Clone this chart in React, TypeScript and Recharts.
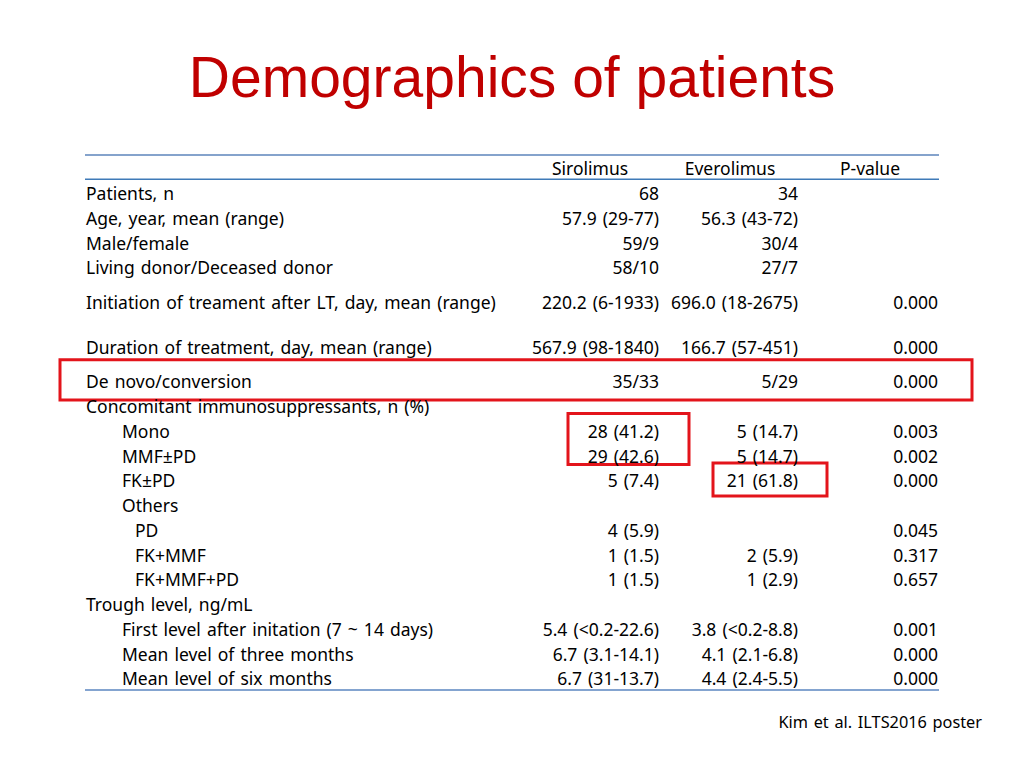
import { ComposedChart, Scatter, XAxis, YAxis, ReferenceLine, ReferenceArea, Text } from 'recharts';

const title = 'Demographics of patients';
const footnote = 'Kim et al. ILTS2016 poster';
const headers = ['Sirolimus', 'Everolimus', 'P-value'];

const labels = [
  'Patients, n',
  'Age, year, mean (range)',
  'Male/female',
  'Living donor/Deceased donor',
  'Initiation of treament after LT, day, mean (range)',
  'Duration of treatment, day, mean (range)',
  'De novo/conversion',
  'Concomitant immunosuppressants, n (%)',
  'Mono',
  'MMF\u00b1PD',
  'FK\u00b1PD',
  'Others',
  'PD',
  'FK+MMF',
  'FK+MMF+PD',
  'Trough level, ng/mL',
  'First level after initation (7 ~ 14 days)',
  'Mean level of three months',
  'Mean level of six months',
];
const indents = [0, 0, 0, 0, 0, 0, 0, 0, 1, 1, 1, 1, 2, 2, 2, 0, 1, 1, 1];

const sirolimus = [
  '68', '57.9 (29-77)', '59/9', '58/10', '220.2 (6-1933)', '567.9 (98-1840)', '35/33', '',
  '28 (41.2)', '29 (42.6)', '5 (7.4)', '', '4 (5.9)', '1 (1.5)', '1 (1.5)', '',
  '5.4 (<0.2-22.6)', '6.7 (3.1-14.1)', '6.7 (31-13.7)',
];
const everolimus = [
  '34', '56.3 (43-72)', '30/4', '27/7', '696.0 (18-2675)', '166.7 (57-451)', '5/29', '',
  '5 (14.7)', '5 (14.7)', '21 (61.8)', '', '', '2 (5.9)', '1 (2.9)', '',
  '3.8 (<0.2-8.8)', '4.1 (2.1-6.8)', '4.4 (2.4-5.5)',
];
const pValues = [
  '', '', '', '', '0.000', '0.000', '0.000', '',
  '0.003', '0.002', '0.000', '', '0.045', '0.317', '0.657', '',
  '0.001', '0.000', '0.000',
];

// layout (x in page pixels, y in row units)
const W = 1024;
const H = 768;
const ROW_PX = 24.75;
const FIRST_ROW_PX = 194;
const EXTRA_GAP: Record<number, number> = { 4: 0.4, 5: 0.8, 6: 0.4 };
const INDENT_X = [86, 122, 135];
const COL_RIGHT = [659, 798, 938];
const HEAD_CENTER = [590, 730, 870];
const TABLE_L = 85;
const TABLE_R = 939;
const FONT = "'Noto Sans', 'Open Sans', sans-serif";
const FS = 17.5;

const rowPos: number[] = [];
let acc = 0;
labels.forEach((_, i) => {
  acc += EXTRA_GAP[i] || 0;
  rowPos.push(i + acc);
});

const yMin = -FIRST_ROW_PX / ROW_PX;
const yMax = (H - FIRST_ROW_PX) / ROW_PX;
const pxToRow = (px: number) => (px - FIRST_ROW_PX) / ROW_PX;

const labelData = labels.map((t, i) => ({ x: INDENT_X[indents[i]], y: rowPos[i], text: t }));
const colData = [sirolimus, everolimus, pValues].map((col, c) =>
  col.map((t, i) => ({ x: COL_RIGHT[c], y: rowPos[i], text: t })).filter((d) => d.text !== '')
);
const headData = headers.map((t, c) => ({ x: HEAD_CENTER[c], y: -1, text: t }));

const cell = (anchor: 'start' | 'end' | 'middle', size = FS) => (props: any) => (
  <Text
    x={props.cx}
    y={props.cy}
    textAnchor={anchor}
    verticalAnchor="middle"
    fontFamily={FONT}
    fontSize={size}
    fill="#000"
    style={{ wordSpacing: '1.5px' }}
  >
    {props.payload.text}
  </Text>
);

export default function App() {
  const boxes = [
    { x1: 60, x2: 972, y1: rowPos[6] - 0.9, y2: rowPos[6] + 0.72 },
    { x1: 568, x2: 689, y1: rowPos[8] - 0.73, y2: rowPos[9] + 0.33 },
    { x1: 713, x2: 827, y1: rowPos[10] - 0.73, y2: rowPos[10] + 0.6 },
  ];
  return (
    <div style={{ position: 'absolute', left: 0, top: 0, width: W, height: H, background: '#fff' }}>
      <ComposedChart width={W} height={H} margin={{ top: 0, right: 0, bottom: 0, left: 0 }}>
        <XAxis type="number" dataKey="x" domain={[0, W]} hide allowDataOverflow />
        <YAxis type="number" dataKey="y" domain={[yMin, yMax]} reversed hide allowDataOverflow />
        <ReferenceLine
          segment={[{ x: TABLE_L, y: -1.58 }, { x: TABLE_R, y: -1.58 }]}
          stroke="#85a3cc"
          strokeWidth={2}
        />
        <ReferenceLine
          segment={[{ x: TABLE_L, y: -0.6 }, { x: TABLE_R, y: -0.6 }]}
          stroke="#3f7ab8"
          strokeWidth={1.5}
        />
        <ReferenceLine
          segment={[{ x: TABLE_L, y: 20.04 }, { x: TABLE_R, y: 20.04 }]}
          stroke="#5b86c0"
          strokeWidth={1.5}
        />
        <Scatter data={headData} shape={cell('middle')} isAnimationActive={false} />
        <Scatter data={labelData} shape={cell('start')} isAnimationActive={false} />
        {colData.map((d, c) => (
          <Scatter key={c} data={d} shape={cell('end')} isAnimationActive={false} />
        ))}
        {boxes.map((b, i) => (
          <ReferenceArea key={i} {...b} fill="none" fillOpacity={0} stroke="#e3141b" strokeWidth={3} />
        ))}
        <Scatter
          data={[{ x: W / 2, y: pxToRow(77), text: title }]}
          shape={(p: any) => (
            <Text x={p.cx} y={p.cy} textAnchor="middle" verticalAnchor="middle"
              fontFamily="'Liberation Sans', Arial, sans-serif" fontSize={57} fill="#c00000">
              {p.payload.text}
            </Text>
          )}
          isAnimationActive={false}
        />
        <Scatter
          data={[{ x: 982, y: pxToRow(722), text: footnote }]}
          shape={cell('end', 16.3)}
          isAnimationActive={false}
        />
      </ComposedChart>
    </div>
  );
}
